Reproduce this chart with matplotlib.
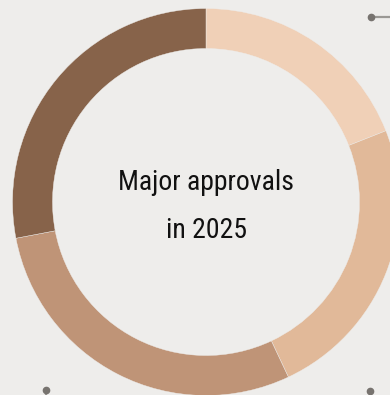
import matplotlib
matplotlib.use("Agg")
import matplotlib.pyplot as plt
from matplotlib import font_manager

categories = ["Segment A", "Segment B", "Segment C", "Segment D"]
values = [19, 24, 29, 28]
colors = ["#F0D0B7", "#E1B999", "#BF9477", "#87634A"]
title_lines = ["Major approvals", "in 2025"]

BG = "#EEEDEB"
W, H = 390, 395
fig = plt.figure(figsize=(W / 100, H / 100), dpi=100, facecolor=BG)
ax = fig.add_axes([0, 0, 1, 1])
ax.set_facecolor(BG)

cx, cy, R = 206, H - 202, 193.5
ax.pie(values, colors=colors, startangle=90, counterclock=False,
       center=(cx, cy), radius=R, frame=True,
       wedgeprops=dict(width=40, edgecolor=BG, linewidth=0.3))
ax.set_xlim(0, W)
ax.set_ylim(0, H)
ax.set_aspect("equal")
ax.axis("off")

names = {f.name for f in font_manager.fontManager.ttflist}
fam, fs = ["Roboto"], 18
for cand in ["Roboto Condensed", "Liberation Sans Narrow", "Open Sans Condensed",
             "Noto Sans Condensed", "DejaVu Sans Condensed"]:
    if cand in names:
        fam, fs = [cand], 20
        break
ax.text(cx, H - 190, title_lines[0], ha="center", va="baseline",
        fontsize=fs, family=fam, color="#111111")
ax.text(cx, H - 238, title_lines[1], ha="center", va="baseline",
        fontsize=fs, family=fam, color="#111111")

# leader lines (cut at figure edge)
lc, dc = "#9A9894", "#77736F"
ax.plot([371, 392], [H - 17, H - 17], color=lc, lw=1.6, solid_capstyle="butt")
ax.plot([371], [H - 17], "o", ms=4.5, color=dc)
ax.plot([46, 46], [H - 390, -3], color=lc, lw=1.6)
ax.plot([46], [H - 390], "o", ms=4.5, color=dc)
ax.plot([370, 370], [H - 391, -3], color=lc, lw=1.6)
ax.plot([370], [H - 391], "o", ms=4.5, color=dc)

fig.savefig("out.png", dpi=100, facecolor=BG)
